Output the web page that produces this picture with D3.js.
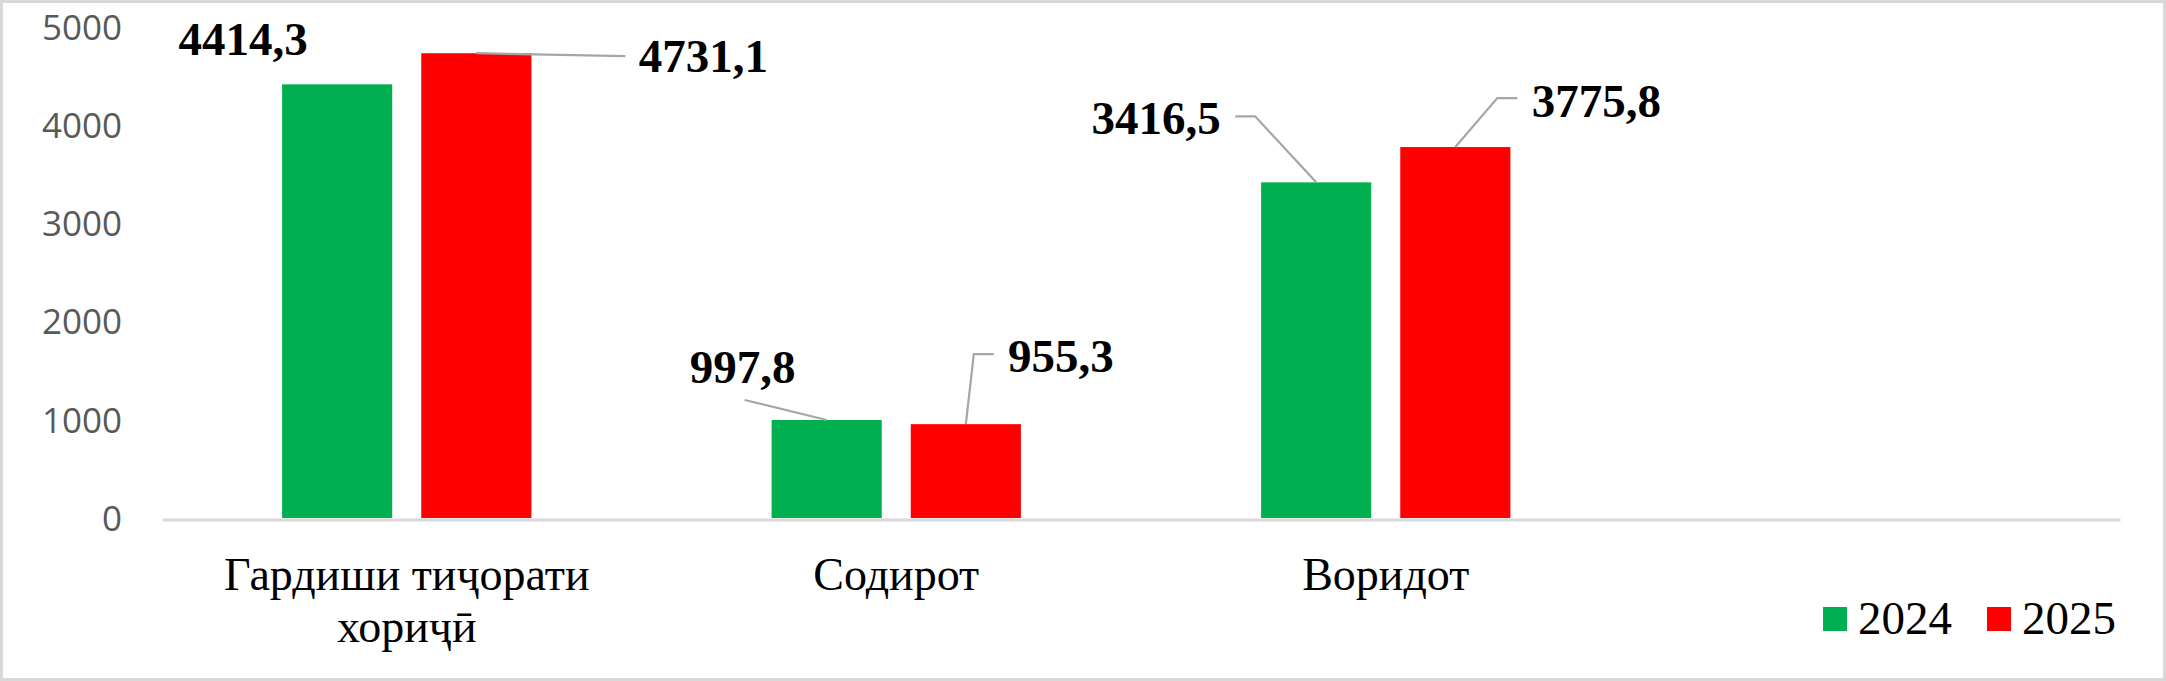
<!DOCTYPE html>
<html><head><meta charset="utf-8">
<script src="https://cdn.jsdelivr.net/npm/d3@7"></script>
<style>html,body{margin:0;padding:0;background:#fff;overflow:hidden}</style>
</head><body>
<svg id="chart" width="2166" height="681"></svg>
<script>
// ---- data ----
const categories = [["Гардиши тиҷорати","хориҷӣ"],["Содирот"],["Воридот"],[""]];
const seriesNames = ["2024","2025"];
const values2024 = [4414.3, 997.8, 3416.5, null];
const values2025 = [4731.1, 955.3, 3775.8, null];
const yTicks = [0,1000,2000,3000,4000,5000];
const labels2024 = ["4414,3","997,8","3416,5"];
const labels2025 = ["4731,1","955,3","3775,8"];

// ---- layout (label placement relative to bar top: [dx, dy] of text centre/baseline, leader points) ----
const colors = ["#00B050","#FF0000"];
const labelLayout = {
  "2024": [
    {tx:-94, ty:-29, leader:null},
    {tx:-84, ty:-37, leader:[[0,0],[-82,-20]]},
    {tx:-160, ty:-48, leader:[[0,0],[-61,-66],[-81,-66]]}
  ],
  "2025": [
    {tx:227, ty:19, leader:[[0,0],[149,3]]},
    {tx:95, ty:-52, leader:[[0,0],[8,-70],[28,-70]]},
    {tx:141, ty:-30, leader:[[0,0],[42,-49],[62,-49]]}
  ]
};

const svg = d3.select("#chart");
const W = 2166, H = 681;

svg.append("rect").attr("x",1.5).attr("y",1.5).attr("width",W-3).attr("height",H-3)
  .attr("fill","#fff").attr("stroke","#d9d9d9").attr("stroke-width",3);

const x0 = d3.scaleBand().domain(d3.range(categories.length)).range([162, 2120]).paddingInner(0).paddingOuter(0);
const x1 = d3.scaleBand().domain(seriesNames).range([0, x0.bandwidth()]).paddingInner(29/139).paddingOuter(0.863);
const y = d3.scaleLinear().domain([0,5000]).range([518, 26.8]);

// y tick labels
const yAxis = d3.axisLeft(y).tickValues(yTicks).tickSize(0).tickPadding(0).tickFormat(d3.format("d"));
const ga = svg.append("g").attr("transform","translate(122,0)").call(yAxis);
ga.select(".domain").remove();
ga.selectAll("text").attr("font-family","'Open Sans', 'Liberation Sans', sans-serif")
  .attr("font-size",35).attr("fill","#595959").attr("dy","0.35em");

// bars
const seriesData = [values2024, values2025];
seriesNames.forEach((s,si)=>{
  svg.append("g").selectAll("rect")
    .data(seriesData[si].map((v,i)=>({v,i})).filter(d=>d.v!=null))
    .join("rect")
    .attr("x",d=>x0(d.i)+x1(s))
    .attr("y",d=>y(d.v))
    .attr("width",x1.bandwidth())
    .attr("height",d=>y(0)-y(d.v))
    .attr("fill",colors[si]);
});

// x axis line
const xAxis = d3.axisBottom(x0).tickSize(0).tickFormat("");
const gx = svg.append("g").attr("transform","translate(0,519.5)").call(xAxis);
gx.select(".domain").attr("stroke","#d9d9d9").attr("stroke-width",3);

// category labels
categories.forEach((lines,i)=>{
  const t = svg.append("text").attr("text-anchor","middle")
    .attr("font-family","'Liberation Serif','Times New Roman',serif").attr("font-size",46).attr("fill","#000");
  lines.forEach((ln,j)=>{
    t.append("tspan").attr("x",x0(i)+x0.bandwidth()/2).attr("y",590+j*52).text(ln);
  });
});

// data labels
const allLabels = [labels2024, labels2025];
seriesNames.forEach((s,si)=>{
  seriesData[si].forEach((v,i)=>{
    if(v==null) return;
    const bx = x0(i)+x1(s)+x1.bandwidth()/2, by = y(v);
    const L = labelLayout[s][i];
    if(L.leader){
      svg.append("path").attr("d", d3.line()(L.leader.map(p=>[bx+p[0], by+p[1]])))
        .attr("fill","none").attr("stroke","#a6a6a6").attr("stroke-width",2.2);
    }
    svg.append("text").attr("x",bx+L.tx).attr("y",by+L.ty).attr("text-anchor","middle")
      .attr("font-family","'Liberation Serif','Times New Roman',serif").attr("font-weight","bold")
      .attr("font-size",47).attr("fill","#000").text(allLabels[si][i]);
  });
});

// legend
const legendX = [1823, 1987];
seriesNames.forEach((s,si)=>{
  const g = svg.append("g").attr("transform",`translate(${legendX[si]},607)`);
  g.append("rect").attr("width",24).attr("height",24).attr("fill",colors[si]);
  g.append("text").attr("x",35).attr("y",27).attr("font-family","'Liberation Serif','Times New Roman',serif")
    .attr("font-size",47).attr("fill","#000").text(s);
});
</script>
</body></html>
